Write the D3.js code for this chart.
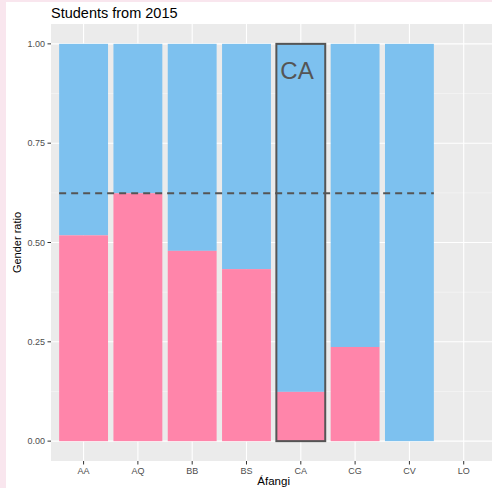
<!DOCTYPE html>
<html><head><meta charset="utf-8">
<script src="https://cdn.jsdelivr.net/npm/d3@7"></script>
<style>
body{margin:0;background:#f9e6ee;}
svg{display:block;}
text{font-family:"Liberation Sans",Arial,sans-serif;}
</style></head>
<body>
<svg id="c" width="492" height="488"></svg>
<script>
const categories = ["AA","AQ","BB","BS","CA","CG","CV","LO"];
const femaleRatio = [0.518, 0.624, 0.479, 0.433, 0.124, 0.237, 0, null];
const hasData = [true, true, true, true, true, true, true, false];
const yTicks = [0, 0.25, 0.5, 0.75, 1];
const yMinor = [0.125, 0.375, 0.625, 0.875];
const refLine = 0.624;
const highlight = "CA";

const svg = d3.select("#c");
svg.append("rect").attr("x",6).attr("y",2).attr("width",486).attr("height",486).attr("fill","#ffffff");

const pL = 51, pR = 496.3, pT = 24, pB = 461;
const step = (pR - pL) / (categories.length + 0.2);
const band = d3.scaleBand().domain(categories)
  .range([pL + 0.1*step, pR - 0.1*step]).paddingInner(0.1).paddingOuter(0.05);
const y = d3.scaleLinear().domain([-0.05, 1.05]).range([pB, pT]);

const g = svg.append("g");
g.append("rect").attr("x",pL).attr("y",pT).attr("width",pR-pL).attr("height",pB-pT).attr("fill","#ebebeb");
g.selectAll(".ymin").data(yMinor).enter().append("line")
 .attr("x1",pL).attr("x2",pR).attr("y1",d=>y(d)).attr("y2",d=>y(d))
 .attr("stroke","#f7f7f7").attr("stroke-width",0.6);
g.selectAll(".ymaj").data(yTicks).enter().append("line")
 .attr("x1",pL).attr("x2",pR).attr("y1",d=>y(d)).attr("y2",d=>y(d))
 .attr("stroke","#ffffff").attr("stroke-width",1.1);
g.selectAll(".xmaj").data(categories).enter().append("line")
 .attr("x1",d=>band(d)+band.bandwidth()/2).attr("x2",d=>band(d)+band.bandwidth()/2)
 .attr("y1",pT).attr("y2",pB)
 .attr("stroke","#ffffff").attr("stroke-width",1.1);

const data = categories.map((c,i)=>({c, f: femaleRatio[i], has: hasData[i]})).filter(d=>d.has);
g.selectAll(".m").data(data).enter().append("rect")
 .attr("x",d=>band(d.c)).attr("width",band.bandwidth())
 .attr("y",y(1)).attr("height",d=>y(d.f)-y(1))
 .attr("fill","#7dc1ef");
g.selectAll(".f").data(data).enter().append("rect")
 .attr("x",d=>band(d.c)).attr("width",band.bandwidth())
 .attr("y",d=>y(d.f)).attr("height",d=>y(0)-y(d.f))
 .attr("fill","#ff85aa");

g.append("line").attr("x1",band(categories[0])).attr("x2",band("CV")+band.bandwidth())
 .attr("y1",y(refLine)).attr("y2",y(refLine))
 .attr("stroke","#555555").attr("stroke-width",2).attr("stroke-dasharray","7,5");

g.append("rect").attr("x",band(highlight)).attr("width",band.bandwidth())
 .attr("y",y(1)).attr("height",y(0)-y(1))
 .attr("fill","none").attr("stroke","#555555").attr("stroke-width",2);
g.append("text").attr("x",band(highlight)+4).attr("y",y(1)+35)
 .attr("font-size",24).attr("fill","#555555").text(highlight);

const ya = svg.append("g");
yTicks.forEach(t=>{
  ya.append("line").attr("x1",pL-3.5).attr("x2",pL).attr("y1",y(t)).attr("y2",y(t)).attr("stroke","#333").attr("stroke-width",1);
  ya.append("text").attr("x",pL-6).attr("y",y(t)).attr("dy","0.35em").attr("text-anchor","end")
   .attr("font-size",9).attr("fill","#4d4d4d").text(d3.format(".2f")(t));
});
categories.forEach(c=>{
  const cx = band(c)+band.bandwidth()/2;
  ya.append("line").attr("x1",cx).attr("x2",cx).attr("y1",pB).attr("y2",pB+3.5).attr("stroke","#333").attr("stroke-width",1);
  ya.append("text").attr("x",cx).attr("y",pB+12.5).attr("text-anchor","middle")
   .attr("font-size",9).attr("fill","#4d4d4d").text(c);
});

svg.append("text").attr("x",(pL+pR)/2).attr("y",485).attr("text-anchor","middle").attr("font-size",11.5).attr("fill","#000").text("Áfangi");
svg.append("text").attr("transform",`translate(21,${(pT+pB)/2}) rotate(-90)`).attr("text-anchor","middle").attr("font-size",11).attr("fill","#000").text("Gender ratio");
svg.append("text").attr("x",pL).attr("y",18).attr("font-size",14.5).attr("fill","#000").text("Students from 2015");
</script>
</body></html>
